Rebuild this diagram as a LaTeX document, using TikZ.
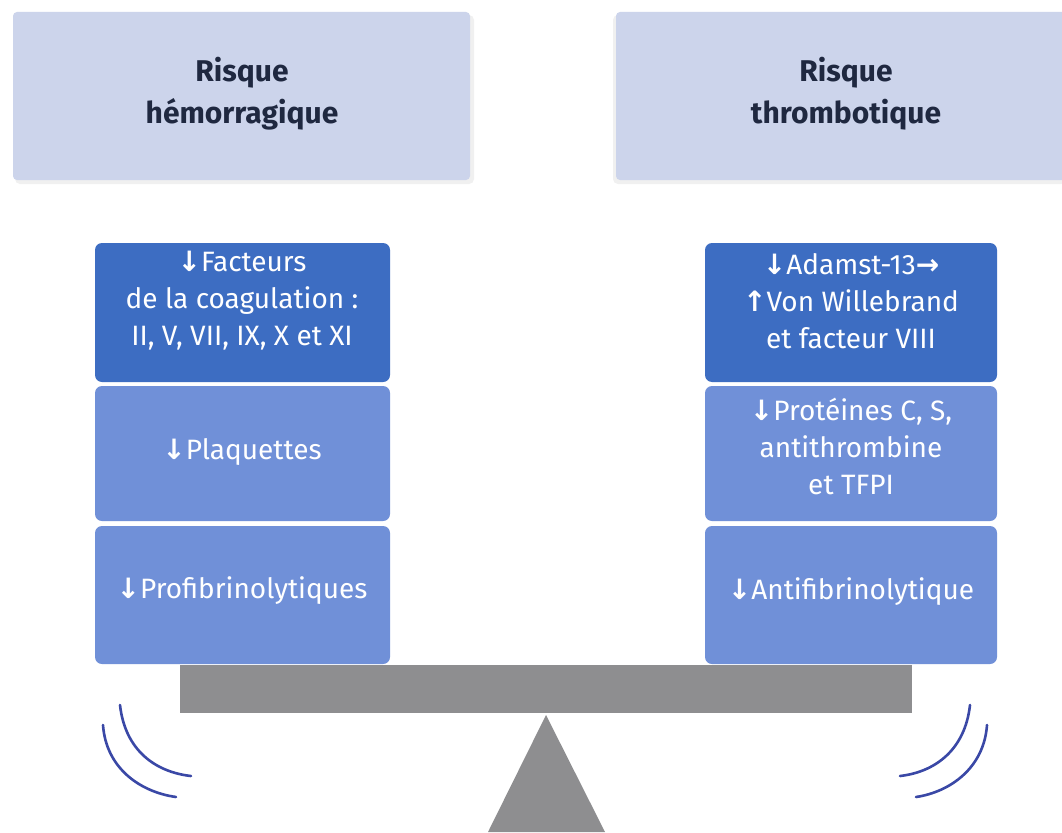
\documentclass[tikz,border=0pt]{standalone}
\usepackage{fontspec}
\setmainfont{Fira Sans}
\newfontfamily\arrowfont{DejaVu Sans}
\definecolor{hdrfill}{HTML}{CCD4EB}
\definecolor{hdrtext}{HTML}{1F2840}
\definecolor{topblue}{HTML}{3D6DC2}
\definecolor{midblue}{HTML}{7090D8}
\definecolor{beamgray}{HTML}{8E8E90}
\definecolor{arcblue}{HTML}{3A48A6}
\newcommand{\dn}{{\arrowfont\bfseries ↓}}
\newcommand{\up}{{\arrowfont\bfseries ↑}}
\newcommand{\rt}{{\arrowfont\bfseries →}}
\tikzset{
  hdr/.style={fill=hdrfill, rounded corners=4pt, draw=none},
  hdrlabel/.style={text=hdrtext, font=\fontsize{30}{42}\selectfont\bfseries, align=center},
  topbox/.style={fill=topblue, rounded corners=7pt, draw=none},
  midbox/.style={fill=midblue, rounded corners=7pt, draw=none},
  boxlabel/.style={text=white, font=\fontsize{28}{37}\selectfont, align=center},
  arcline/.style={draw=arcblue, line width=2.6pt, line cap=round}
}
\begin{document}
\begin{tikzpicture}[x=1pt,y=-1pt]
\useasboundingbox (0,0) rectangle (1062,832);
\fill[white] (0,0) rectangle (1062,832);
% header shadows
\fill[gray!12, rounded corners=5pt] (15,15) rectangle (474,184);
\fill[gray!12, rounded corners=5pt] (613,15) rectangle (1066,184);
% headers
\path[hdr] (13,12) rectangle (470,180);
\path[hdr] (616,12) rectangle (1070,180);
\node[hdrlabel] (hl) at (242,94) {Risque\\hémorragique};
\node[hdrlabel] (hr) at (846,94) {Risque\\thrombotique};
% beam and fulcrum
\fill[beamgray] (180,665) rectangle (912,713);
\fill[beamgray] (546,715) -- (605,832) -- (488,832) -- cycle;
% left stack
\path[topbox] (95,243) rectangle (390,382);
\path[midbox] (95,386) rectangle (390,521);
\path[midbox] (95,526) rectangle (390,664);
\node[boxlabel] (l1) at (242,301) {\dn Facteurs\\de la coagulation :\\II, V, VII, IX, X et XI};
\node[boxlabel] (l2) at (242,452) {\dn Plaquettes};
\node[boxlabel] (l3) at (242,591) {\dn Profibrinolytiques};
% right stack
\path[topbox] (705,243) rectangle (997,382);
\path[midbox] (705,386) rectangle (997,521);
\path[midbox] (705,526) rectangle (997,664);
\node[boxlabel] (r1) at (851,301) {\dn Adamst-13\rt\\\up Von Willebrand\\et facteur VIII};
\node[boxlabel] (r2) at (851,446) {\dn Protéines C, S,\\antithrombine\\et TFPI};
\node[boxlabel] (r3) at (851,592) {\dn Antifibrinolytique};
% motion arcs
\coordinate (la1) at (120,705); \coordinate (la2) at (191,776);
\coordinate (lb1) at (103,725); \coordinate (lb2) at (176,797);
\coordinate (ra1) at (970,705); \coordinate (ra2) at (900,776);
\coordinate (rb1) at (987,725); \coordinate (rb2) at (916,797);
\draw[arcline] (la1) .. controls (125,750) and (155,772) .. (la2);
\draw[arcline] (lb1) .. controls (106,768) and (140,792) .. (lb2);
\draw[arcline] (ra1) .. controls (965,750) and (935,772) .. (ra2);
\draw[arcline] (rb1) .. controls (984,768) and (950,792) .. (rb2);
\end{tikzpicture}
\end{document}
